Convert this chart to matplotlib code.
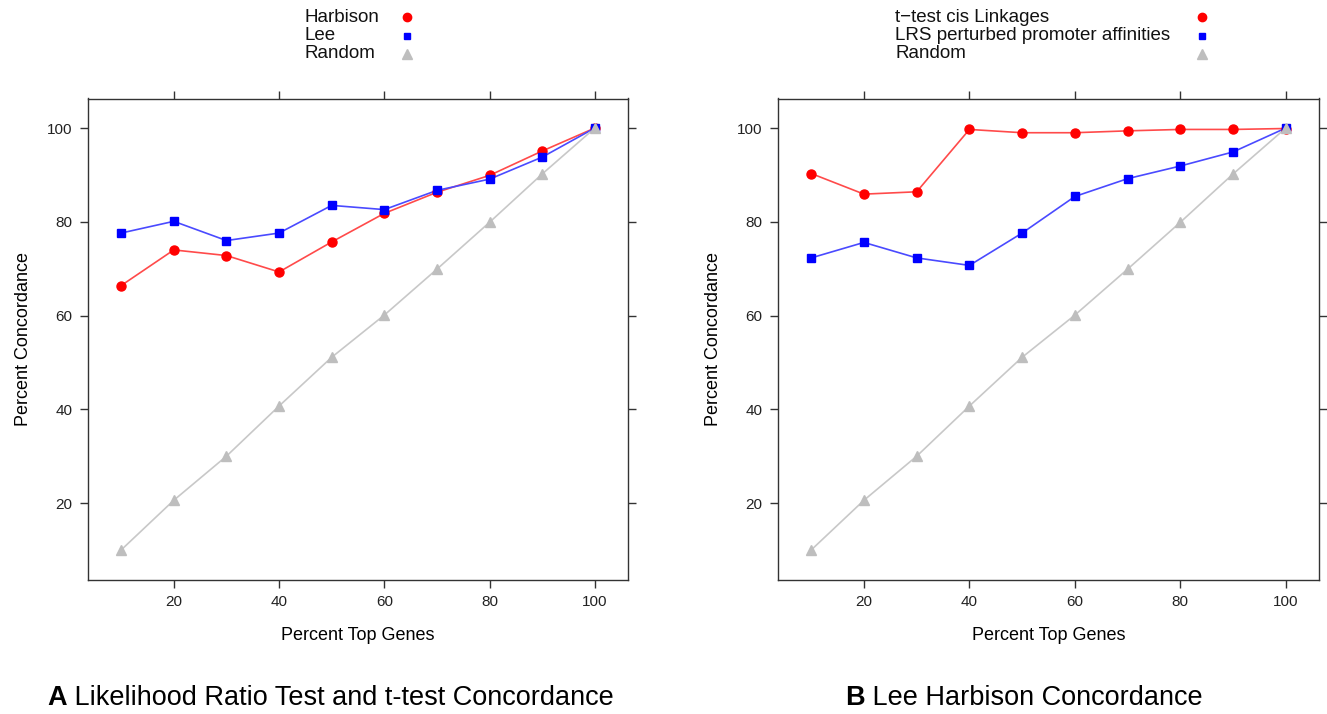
import matplotlib
matplotlib.use("Agg")
import matplotlib.pyplot as plt
from matplotlib.lines import Line2D

plt.rcParams["font.family"] = ["Liberation Sans", "DejaVu Sans"]

# data
top_genes = [10, 20, 30, 40, 50, 60, 70, 80, 90, 100]

harbison = [66.4, 74.0, 72.8, 69.3, 75.7, 81.8, 86.3, 89.9, 95.1, 100.0]
lee = [77.6, 80.1, 76.0, 77.6, 83.5, 82.6, 86.7, 89.1, 93.8, 100.0]
random_a = [10.0, 20.6, 30.0, 40.7, 51.1, 60.1, 69.9, 79.9, 90.2, 100.0]

ttest_cis = [90.3, 85.9, 86.4, 99.7, 99.0, 99.0, 99.4, 99.7, 99.7, 99.9]
lrs_affinities = [72.3, 75.6, 72.3, 70.7, 77.6, 85.4, 89.2, 91.9, 94.9, 100.0]
random_b = [10.0, 20.6, 30.0, 40.7, 51.1, 60.1, 69.9, 79.9, 90.2, 100.0]

labels_a = ["Harbison", "Lee", "Random"]
labels_b = ["t\u2212test cis Linkages", "LRS perturbed promoter affinities", "Random"]
x_ticks = [20, 40, 60, 80, 100]
y_ticks = [20, 40, 60, 80, 100]

# style per series: marker, marker colour, line colour, marker size
styles = [
    ("o", "#ff0000", "#ff4a4a", 6.5),
    ("s", "#0000ff", "#4a4aff", 5.5),
    ("^", "#bebebe", "#c8c8c8", 7.0),
]

fig = plt.figure(figsize=(13.27, 7.14), dpi=100)
W, H = 1327, 714


def draw_panel(box, series, labels, text_x, marker_x):
    left, top, right, bottom = box
    ax = fig.add_axes([left / W, 1 - bottom / H, (right - left) / W, (bottom - top) / H])
    for ys, (mk, mcol, lcol, ms) in zip(series, styles):
        ax.plot(top_genes, ys, color=lcol, lw=1.2, zorder=2)
        ax.plot(top_genes, ys, ls="none", marker=mk, ms=ms,
                mfc=mcol, mec=mcol, zorder=3)
    ax.set_xlim(3.7, 106.3)
    ax.set_ylim(3.7, 106.3)
    ax.set_xticks(x_ticks)
    ax.set_yticks(y_ticks)
    ax.tick_params(direction="out", length=6, width=1, color="#333333",
                   top=True, right=True, labelsize=11, labelcolor="#222222", pad=5)
    for sp in ax.spines.values():
        sp.set_color("#333333")
        sp.set_linewidth(1)
    ax.set_xlabel("Percent Top Genes", fontsize=13, labelpad=13)
    ax.set_ylabel("Percent Concordance", fontsize=13, labelpad=11)

    # lattice style key above the panel
    rows_y = [17, 36, 54]
    for lab, ry, (mk, mcol, lcol, ms) in zip(labels, rows_y, styles):
        fig.text(text_x / W, 1 - ry / H, lab, fontsize=13.5,
                 ha="left", va="center", color="#111111")
        fig.add_artist(Line2D([marker_x / W], [1 - ry / H], marker=mk, ms=ms - 0.5,
                              mfc=mcol, mec=mcol, ls="none",
                              transform=fig.transFigure))
    return ax


draw_panel((88, 98.5, 628, 579.5), [harbison, lee, random_a], labels_a, 305, 407)
draw_panel((778, 98.5, 1319, 579.5), [ttest_cis, lrs_affinities, random_b], labels_b, 895, 1202)

# panel captions
for x0, letter, rest in [(47, "A", " Likelihood Ratio Test and t-test Concordance"),
                         (845, "B", " Lee Harbison Concordance")]:
    t = fig.text(x0 / W, 1 - 698 / H, letter, fontsize=19.5, fontweight="bold",
                 ha="left", va="center")
    plt.annotate(rest, xy=(1, 0), xycoords=t, fontsize=19.5,
                 ha="left", va="bottom", annotation_clip=False)

fig.savefig("out.png", dpi=100)
